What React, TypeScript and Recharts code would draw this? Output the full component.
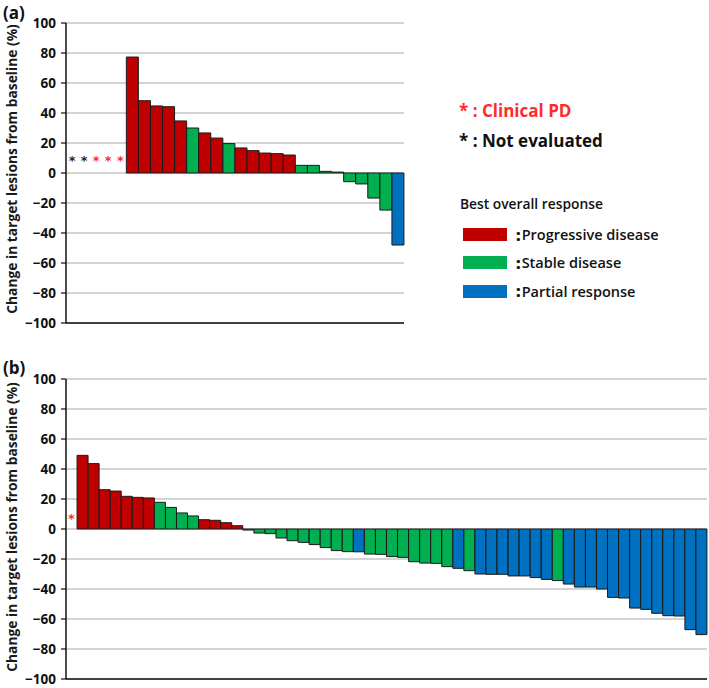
import React from 'react';
import { ComposedChart, Bar, Scatter, XAxis, YAxis, CartesianGrid, Cell } from 'recharts';

// best overall response colours
const responseColors: Record<string, string> = { PD: '#C00000', SD: '#00B050', PR: '#0070C0' };
const starColors: Record<string, string> = { NE: '#262626', CPD: '#FF2B2B' };

const yTicks = [100, 80, 60, 40, 20, 0, -20, -40, -60, -80, -100];

// panel (a)
const aStars = ['NE', 'NE', 'CPD', 'CPD', 'CPD'];
const aStarLevel = 9.5;
const aValues = [77.3, 48.2, 44.7, 44.2, 34.7, 30, 26.7, 23.3, 19.6, 16.7, 14.9, 13.3, 12.9, 12, 5.1, 5.1, 1.1, 0.6, -5.8, -7.3, -16.7, -24.7, -48];
const aResponses = ['PD', 'PD', 'PD', 'PD', 'PD', 'SD', 'PD', 'PD', 'SD', 'PD', 'PD', 'PD', 'PD', 'PD', 'SD', 'SD', 'SD', 'SD', 'SD', 'SD', 'SD', 'SD', 'PR'];

// panel (b)
const bStars = ['CPD'];
const bStarLevel = 8;
const bValues = [49.1, 43.6, 26.2, 25.3, 21.8, 21.1, 20.7, 17.8, 14.4, 10.7, 8.7, 6.2, 5.8, 4.2, 2.2, -0.7, -2.7, -3.1, -6, -7.8, -8.9, -10.4, -12.4, -14.4, -15.1, -15.2, -16.7, -16.9, -18.4, -18.9, -21.8, -22.7, -22.9, -25.1, -26.2, -27.8, -30, -30.2, -30.2, -31.3, -31.3, -32.4, -33.6, -34.4, -36.7, -38.7, -38.7, -40, -45.6, -46, -52.7, -53.6, -56.2, -57.8, -58, -67.1, -70.4];
const bResponses = [
  'PD', 'PD', 'PD', 'PD', 'PD', 'PD', 'PD', 'SD', 'SD', 'SD', 'SD', 'PD', 'PD', 'PD', 'PD',
  'SD', 'SD', 'SD', 'SD', 'SD', 'SD', 'SD', 'SD', 'SD', 'SD', 'PR',
  'SD', 'SD', 'SD', 'SD', 'SD', 'SD', 'SD', 'SD', 'PR', 'SD',
  'PR', 'PR', 'PR', 'PR', 'PR', 'PR', 'PR', 'SD',
  'PR', 'PR', 'PR', 'PR', 'PR', 'PR', 'PR', 'PR', 'PR', 'PR', 'PR', 'PR', 'PR',
];

const yLabel = 'Change in target lesions from baseline (%)';

function buildRows(stars: string[], level: number, values: number[], responses: string[]) {
  const rows: any[] = stars.map((s, i) => ({ id: `s${i}`, value: null, resp: null, star: level, starType: s }));
  values.forEach((v, i) => rows.push({ id: `p${i}`, value: v, resp: responses[i], star: null, starType: null }));
  return rows;
}

const aRows = buildRows(aStars, aStarLevel, aValues, aResponses);
const bRows = buildRows(bStars, bStarLevel, bValues, bResponses);

const fmtTick = (v: number) => (v < 0 ? `\u2212${-v}` : `${v}`);

const StarShape = (props: any) => {
  const { cx, cy, payload } = props;
  if (!payload || payload.starType == null || cx == null || cy == null) return <g />;
  return (
    <text x={cx} y={cy + 6} textAnchor="middle" fontSize={13} fontWeight="bold" fontFamily="DejaVu Sans" fill={starColors[payload.starType]}>
      *
    </text>
  );
};

function Waterfall({ rows, width, height, margin }: { rows: any[]; width: number; height: number; margin: any }) {
  return (
    <ComposedChart width={width} height={height} data={rows} margin={margin} barCategoryGap={0} barGap={0}>
      <CartesianGrid vertical={false} stroke="#a8a8a8" strokeWidth={1.2} />
      <XAxis dataKey="id" tick={false} tickLine={false} axisLine={{ stroke: '#111', strokeWidth: 1.5 }} height={1} />
      <YAxis
        domain={[-100, 100]}
        ticks={yTicks}
        interval={0}
        width={46}
        tickFormatter={fmtTick}
        tickSize={5}
        tickMargin={5}
        axisLine={{ stroke: '#111', strokeWidth: 1.5 }}
        tickLine={{ stroke: '#111', strokeWidth: 1.2 }}
        tick={{ fill: '#111', fontSize: 13.5, fontWeight: 'bold', fontFamily: 'Open Sans' }}
      />
      <Bar dataKey="value" isAnimationActive={false} stroke="#1a1a1a" strokeWidth={1}>
        {rows.map((r) => (
          <Cell key={r.id} fill={r.resp ? responseColors[r.resp] : 'none'} />
        ))}
      </Bar>
      <Scatter dataKey="star" isAnimationActive={false} shape={StarShape} />
    </ComposedChart>
  );
}

const RotLabel = ({ cx, cy }: { cx: number; cy: number }) => (
  <div
    style={{
      position: 'absolute',
      left: cx - 160,
      top: cy - 9,
      width: 320,
      height: 18,
      lineHeight: '18px',
      textAlign: 'center',
      transform: 'rotate(-90deg)',
      fontFamily: 'Open Sans',
      fontWeight: 700,
      fontSize: 13.8,
      color: '#1a1a1a',
      whiteSpace: 'nowrap',
    }}
  >
    {yLabel}
  </div>
);

const legendItems = [
  { key: 'PD', label: 'Progressive disease' },
  { key: 'SD', label: 'Stable disease' },
  { key: 'PR', label: 'Partial response' },
];

export default function App() {
  return (
    <div style={{ position: 'absolute', left: 0, top: 0, width: 709, height: 688, background: '#fff', fontFamily: 'Open Sans', overflow: 'hidden' }}>
      <div style={{ position: 'absolute', left: 0, top: 0 }}>
        <Waterfall rows={aRows} width={420} height={340} margin={{ top: 23, right: 16, left: 20, bottom: 16 }} />
      </div>
      <div style={{ position: 'absolute', left: 0, top: 340 }}>
        <Waterfall rows={bRows} width={709} height={348} margin={{ top: 39, right: 2, left: 20, bottom: 8 }} />
      </div>

      <div style={{ position: 'absolute', left: 3, top: 1, fontSize: 17, fontWeight: 700, color: '#111' }}>(a)</div>
      <div style={{ position: 'absolute', left: 3, top: 356, fontSize: 17, fontWeight: 700, color: '#111' }}>(b)</div>

      <RotLabel cx={12} cy={169} />
      <RotLabel cx={12} cy={527} />

      <div style={{ position: 'absolute', left: 459, top: 99, fontSize: 17, fontWeight: 700, color: '#FF2B2B', whiteSpace: 'nowrap' }}>* : Clinical PD</div>
      <div style={{ position: 'absolute', left: 459, top: 129, fontSize: 17, fontWeight: 700, color: '#111', whiteSpace: 'nowrap' }}>* : Not evaluated</div>

      <div style={{ position: 'absolute', left: 460, top: 194, fontSize: 13.8, fontWeight: 600, color: '#111', whiteSpace: 'nowrap' }}>Best overall response</div>
      {legendItems.map((it, i) => (
        <div key={it.key} style={{ position: 'absolute', left: 463, top: 225 + i * 28.3, display: 'flex', alignItems: 'center', whiteSpace: 'nowrap' }}>
          <div style={{ width: 44, height: 13, background: responseColors[it.key] }} />
          <span style={{ marginLeft: 9, fontSize: 16, fontWeight: 800, color: '#111', lineHeight: '18px' }}>:</span>
          <span style={{ marginLeft: 1, fontSize: 14.5, fontWeight: 600, color: '#111' }}>{it.label}</span>
        </div>
      ))}
    </div>
  );
}
